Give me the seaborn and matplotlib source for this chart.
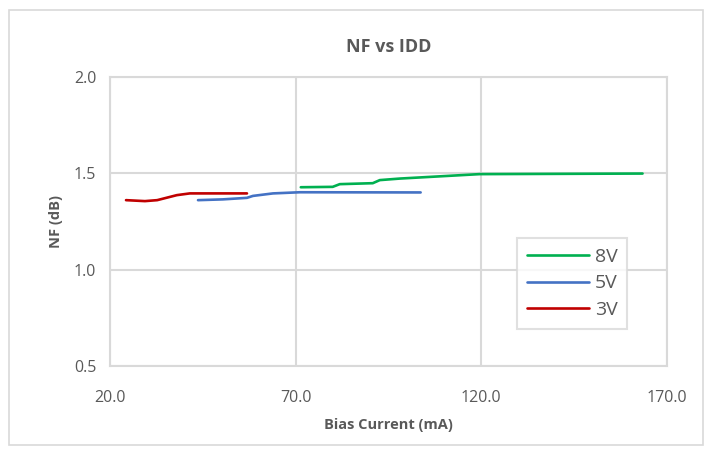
import pandas as pd
import matplotlib.pyplot as plt
import seaborn as sns
from matplotlib.patches import Rectangle

# values
x_8v = [71.4, 80.0, 81.9, 90.8, 92.7, 98.1, 119.6, 163.5]
nf_8v = [1.427, 1.429, 1.443, 1.448, 1.464, 1.472, 1.495, 1.498]

x_5v = [43.7, 50.4, 56.9, 58.5, 63.9, 71.2, 103.7]
nf_5v = [1.360, 1.364, 1.372, 1.382, 1.395, 1.401, 1.400]

x_3v = [24.3, 29.4, 32.7, 38.0, 41.5, 56.9]
nf_3v = [1.360, 1.355, 1.360, 1.386, 1.395, 1.395]

series = ['8V', '5V', '3V']
colors = ['#00B050', '#4472C4', '#C00000']

df = pd.concat([
    pd.DataFrame({'Bias Current (mA)': x_8v, 'NF (dB)': nf_8v, 'Supply': '8V'}),
    pd.DataFrame({'Bias Current (mA)': x_5v, 'NF (dB)': nf_5v, 'Supply': '5V'}),
    pd.DataFrame({'Bias Current (mA)': x_3v, 'NF (dB)': nf_3v, 'Supply': '3V'}),
])

sns.set_style('white')
plt.rcParams['font.family'] = ['Open Sans', 'DejaVu Sans']

fig = plt.figure(figsize=(7.1, 4.49), dpi=100)
ax = fig.add_axes([0.155, 0.185, 0.784, 0.644])

sns.lineplot(data=df, x='Bias Current (mA)', y='NF (dB)', hue='Supply',
             hue_order=series, palette=colors, sort=False, estimator=None,
             linewidth=1.9, ax=ax)

ax.set_xlim(20, 170)
ax.set_ylim(0.5, 2.0)
ax.set_xticks([20, 70, 120, 170])
ax.set_yticks([0.5, 1.0, 1.5, 2.0])
ax.set_xticklabels(['20.0', '70.0', '120.0', '170.0'])
ax.set_yticklabels(['0.5', '1.0', '1.5', '2.0'])
ax.tick_params(axis='both', length=0, labelsize=11.5, labelcolor='#595959')
ax.tick_params(axis='x', pad=17)
ax.tick_params(axis='y', pad=10)
ax.grid(True, color='#D9D9D9', linewidth=1.5)
ax.set_axisbelow(True)
for s in ax.spines.values():
    s.set_color('#D9D9D9')
    s.set_linewidth(1.5)

ax.set_xlabel('Bias Current (mA)', fontsize=10.5, fontweight='bold', color='#595959', labelpad=9)
ax.set_ylabel('NF (dB)', fontsize=10.5, fontweight='bold', color='#595959', labelpad=8)
ax.set_title('NF vs IDD', fontsize=13, fontweight='bold', color='#595959', pad=18)

leg = ax.legend(loc='upper left', bbox_to_anchor=(0.731, 0.443), fontsize=14,
                frameon=True, fancybox=False, handlelength=3.2, borderpad=0.5,
                labelspacing=0.45, handletextpad=0.3, borderaxespad=0)
leg.get_frame().set_edgecolor('#D9D9D9')
leg.get_frame().set_linewidth(1.5)
for t in leg.get_texts():
    t.set_color('#595959')

fig.patches.append(Rectangle((9 / 710, 4 / 449), 694 / 710, 435 / 449,
                             transform=fig.transFigure, fill=False,
                             edgecolor='#D9D9D9', linewidth=1.2))

plt.savefig('out.png', dpi=100)
